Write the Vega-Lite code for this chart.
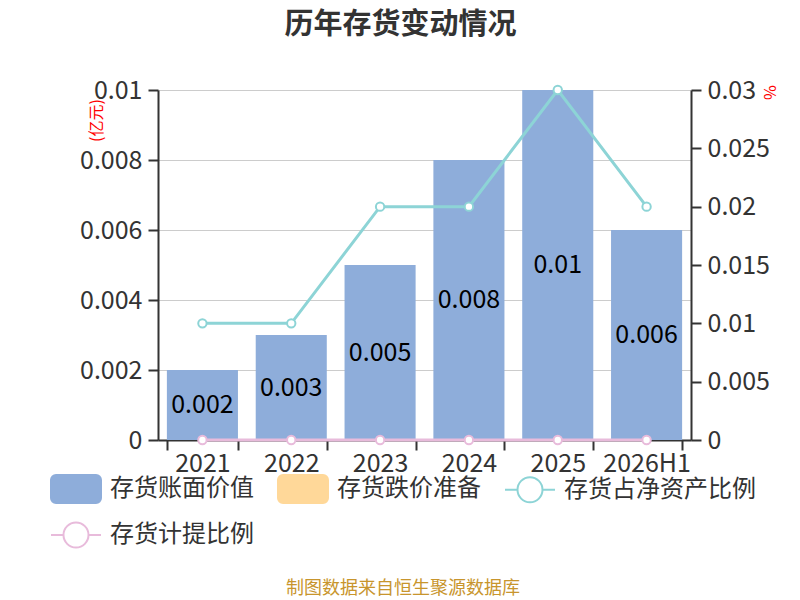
{
  "$schema": "https://vega.github.io/schema/vega-lite/v6.json",
  "autosize": {"type": "none"},
  "width": 533,
  "height": 350,
  "padding": {"left": 158, "top": 90, "right": 109, "bottom": 160},
  "background": "#ffffff",
  "title": {
    "text": "历年存货变动情况",
    "frame": "group",
    "anchor": "middle",
    "dx": -24,
    "offset": 38,
    "fontSize": 29,
    "fontWeight": "bold",
    "color": "#333333"
  },
  "config": {
    "font": "Noto Sans CJK SC",
    "view": {"stroke": null},
    "axis": {
      "labelFont": "Noto Sans CJK SC",
      "labelFontSize": 25,
      "labelColor": "#333333",
      "domainColor": "#333333",
      "domainWidth": 2,
      "tickColor": "#333333",
      "tickWidth": 2,
      "tickSize": 10,
      "titleFont": "Noto Sans CJK SC"
    }
  },
  "datasets": {
    "bars": [
      {"year": "2021", "series": "存货账面价值", "value": 0.002},
      {"year": "2022", "series": "存货账面价值", "value": 0.003},
      {"year": "2023", "series": "存货账面价值", "value": 0.005},
      {"year": "2024", "series": "存货账面价值", "value": 0.008},
      {"year": "2025", "series": "存货账面价值", "value": 0.01},
      {"year": "2026H1", "series": "存货账面价值", "value": 0.006}
    ],
    "ratios": [
      {"year": "2021", "series": "存货占净资产比例", "value": 0.01},
      {"year": "2022", "series": "存货占净资产比例", "value": 0.01},
      {"year": "2023", "series": "存货占净资产比例", "value": 0.02},
      {"year": "2024", "series": "存货占净资产比例", "value": 0.02},
      {"year": "2025", "series": "存货占净资产比例", "value": 0.03},
      {"year": "2026H1", "series": "存货占净资产比例", "value": 0.02},
      {"year": "2021", "series": "存货计提比例", "value": 0},
      {"year": "2022", "series": "存货计提比例", "value": 0},
      {"year": "2023", "series": "存货计提比例", "value": 0},
      {"year": "2024", "series": "存货计提比例", "value": 0},
      {"year": "2025", "series": "存货计提比例", "value": 0},
      {"year": "2026H1", "series": "存货计提比例", "value": 0}
    ]
  },
  "encoding": {
    "x": {
      "field": "year",
      "type": "nominal",
      "sort": null,
      "title": null,
      "scale": {"paddingInner": 0.2, "paddingOuter": 0.1},
      "axis": {"labelAngle": 0, "tickBand": "extent", "labelPadding": 1, "grid": false}
    }
  },
  "layer": [
    {
      "data": {"name": "bars"},
      "encoding": {
        "y": {
          "field": "value",
          "type": "quantitative",
          "stack": "zero",
          "scale": {"domain": [0, 0.01], "nice": false},
          "axis": {
            "orient": "left",
            "values": [0, 0.002, 0.004, 0.006, 0.008, 0.01],
            "format": "~g",
            "grid": true,
            "gridColor": "#cccccc",
            "gridWidth": 1,
            "labelPadding": 6,
            "title": "(亿元)",
            "titleColor": "#ff0000",
            "titleFontSize": 16,
            "titleFontWeight": "normal",
            "titleAngle": -90,
            "titleAlign": "center",
            "titleBaseline": "middle",
            "titleX": -62,
            "titleY": 30
          }
        }
      },
      "layer": [
        {
          "mark": {"type": "bar"},
          "encoding": {
            "color": {
              "field": "series",
              "type": "nominal",
              "scale": {
                "domain": ["存货账面价值", "存货跌价准备", "存货占净资产比例", "存货计提比例"],
                "range": ["#8eadda", "#ffd899", "#8dd4d6", "#e8bbdb"]
              },
              "legend": {
                "orient": "none",
                "legendX": -108,
                "legendY": 373,
                "direction": "horizontal",
                "columns": 3,
                "symbolSize": 2500,
                "rowPadding": 2,
                "columnPadding": 20,
                "labelOffset": 8,
                "labelFontSize": 24,
                "labelColor": "#333333",
                "labelLimit": 400,
                "title": "制图数据来自恒生聚源数据库",
                "titleLimit": 600,
                "titleOrient": "bottom",
                "titleAnchor": "middle",
                "titleFontSize": 18,
                "titleFontWeight": "normal",
                "titleColor": "#c8952d",
                "titlePadding": 28,
                "encode": {
                  "symbols": {
                    "update": {
                      "shape": {"signal": "(datum.value === '存货账面价值' || datum.value === '存货跌价准备') ? 'M-0.8,-0.56H0.8A0.2,0.2 0 0 1 1,-0.36V0.36A0.2,0.2 0 0 1 0.8,0.56H-0.8A0.2,0.2 0 0 1 -1,0.36V-0.36A0.2,0.2 0 0 1 -0.8,-0.56Z' : 'M-1,0H-0.5M0.5,0H1M0.5,0A0.5,0.5 0 1 1 -0.5,0A0.5,0.5 0 1 1 0.5,0'"},
                      "fillOpacity": {"signal": "(datum.value === '存货账面价值' || datum.value === '存货跌价准备') ? 1 : 0"},
                      "stroke": {"signal": "datum.value === '存货占净资产比例' ? '#8dd4d6' : datum.value === '存货计提比例' ? '#e8bbdb' : 'transparent'"},
                      "strokeWidth": {"value": 2},
                      "opacity": {"value": 1}
                    }
                  }
                }
              }
            }
          }
        },
        {
          "mark": {"type": "text", "fontSize": 25, "color": "#000000", "baseline": "middle"},
          "encoding": {
            "y": {"field": "value", "type": "quantitative", "stack": "zero", "bandPosition": 0.5},
            "text": {"field": "value", "type": "quantitative", "format": "~g"}
          }
        }
      ]
    },
    {
      "data": {"name": "ratios"},
      "encoding": {
        "y": {
          "field": "value",
          "type": "quantitative",
          "scale": {"domain": [0, 0.03], "nice": false},
          "axis": {
            "orient": "right",
            "values": [0, 0.005, 0.01, 0.015, 0.02, 0.025, 0.03],
            "format": "~g",
            "grid": false,
            "labelPadding": 6,
            "title": "%",
            "titleColor": "#ff0000",
            "titleFontSize": 16,
            "titleFontWeight": "normal",
            "titleAngle": 90,
            "titleAlign": "center",
            "titleBaseline": "middle",
            "titleX": 77,
            "titleY": 2
          }
        },
        "color": {"field": "series", "type": "nominal"}
      },
      "layer": [
        {"mark": {"type": "line", "strokeWidth": 3}},
        {"mark": {"type": "point", "filled": false, "fill": "#ffffff", "size": 70, "strokeWidth": 2, "opacity": 1}}
      ]
    }
  ],
  "resolve": {"scale": {"y": "independent"}, "axis": {"y": "independent"}}
}
